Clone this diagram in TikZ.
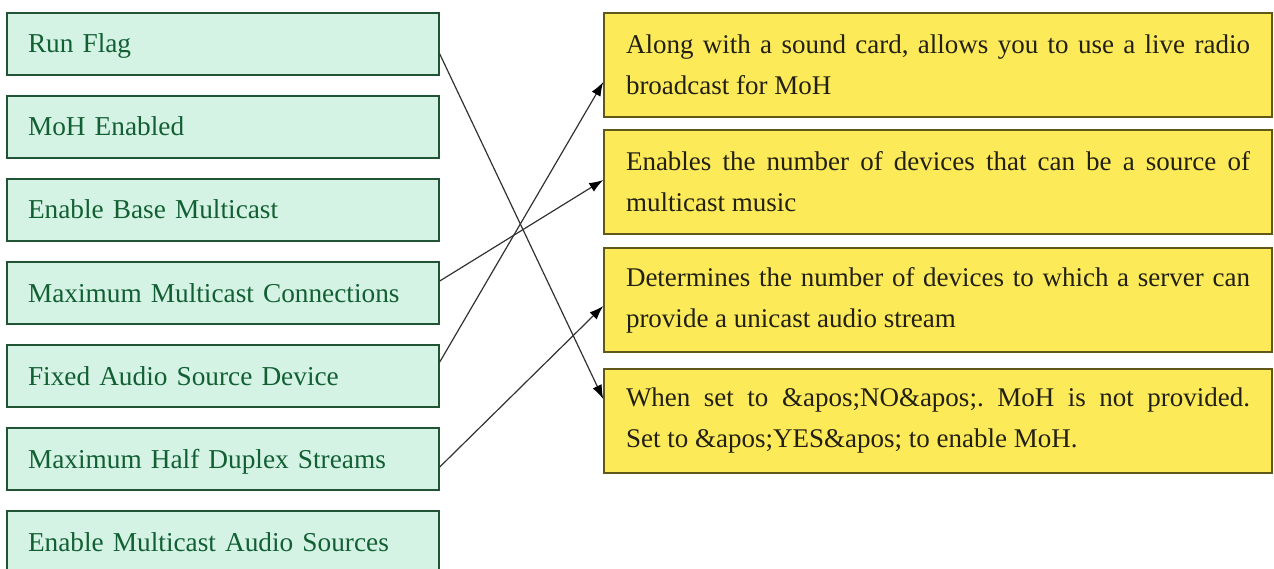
\documentclass[tikz,border=0pt]{standalone}
\usepackage{fontspec}
\setmainfont{Liberation Serif}
\usetikzlibrary{arrows.meta, positioning}

\definecolor{mintfill}{RGB}{213,243,228}
\definecolor{mintline}{RGB}{32,84,52}
\definecolor{minttext}{RGB}{18,95,52}
\definecolor{descfill}{RGB}{252,234,88}
\definecolor{descline}{RGB}{96,88,24}
\definecolor{desctext}{RGB}{34,32,20}
\definecolor{linkgray}{RGB}{50,50,50}

\frenchspacing
\hyphenpenalty=10000

\begin{document}
\begin{tikzpicture}[x=1pt, y=-1pt,
    optbox/.style={draw=mintline, line width=1.5pt, fill=mintfill, text=minttext,
        minimum width=432pt, minimum height=62pt, text width=390pt, inner xsep=21pt,
        text height=24pt, text depth=6pt,
        align=left, font=\fontsize{27.3}{32}\selectfont},
    descbox/.style={draw=descline, line width=1.5pt, fill=descfill, text=desctext,
        minimum width=668pt, minimum height=104pt, text width=624pt, inner xsep=22pt,
        align=justify, font=\fontsize{27}{41}\selectfont},
    link/.style={draw=linkgray, line width=1.2pt, -{Latex[length=14pt, width=10pt, black]}}]

        \useasboundingbox (0,0) rectangle (1274,569);

        % settings on the left
        \node[optbox] (runflag) at (223,44) {Run Flag};
        \node[optbox, below=19.5pt of runflag] (mohenabled) {MoH Enabled};
        \node[optbox, below=19.5pt of mohenabled] (basemc) {Enable Base Multicast};
        \node[optbox, below=19.5pt of basemc] (maxmc) {Maximum Multicast Connections};
        \node[optbox, below=19.5pt of maxmc] (fixedsrc) {Fixed Audio Source Device};
        \node[optbox, below=19.5pt of fixedsrc] (maxhd) {Maximum Half Duplex Streams};
        \node[optbox, below=19.5pt of maxhd] (mcsrc) {Enable Multicast Audio Sources};

        % descriptions on the right
        \node[descbox] (radio) at (938,65) {Along with a sound card, allows you to use a live radio\linebreak broadcast for MoH};
        \node[descbox] (mcmusic) at (938,182) {Enables the number of devices that can be a source of\linebreak multicast music};
        \node[descbox] (unicast) at (938,300) {Determines the number of devices to which a server can\linebreak provide a unicast audio stream};
        \node[descbox] (noyes) at (938,421) {When set to \&apos;NO\&apos;. MoH is not provided.\linebreak Set to \&apos;YES\&apos; to enable MoH.};

        \draw[link] ([yshift=-10pt]runflag.east) -- ([yshift=22pt]noyes.west);
        \draw[link] ([yshift=12pt]maxmc.east) -- ([yshift=2pt]mcmusic.west);
        \draw[link] ([yshift=14pt]fixedsrc.east) -- ([yshift=-17pt]radio.west);
        \draw[link] ([yshift=-8pt]maxhd.east) -- ([yshift=-6pt]unicast.west);

\end{tikzpicture}
\end{document}
